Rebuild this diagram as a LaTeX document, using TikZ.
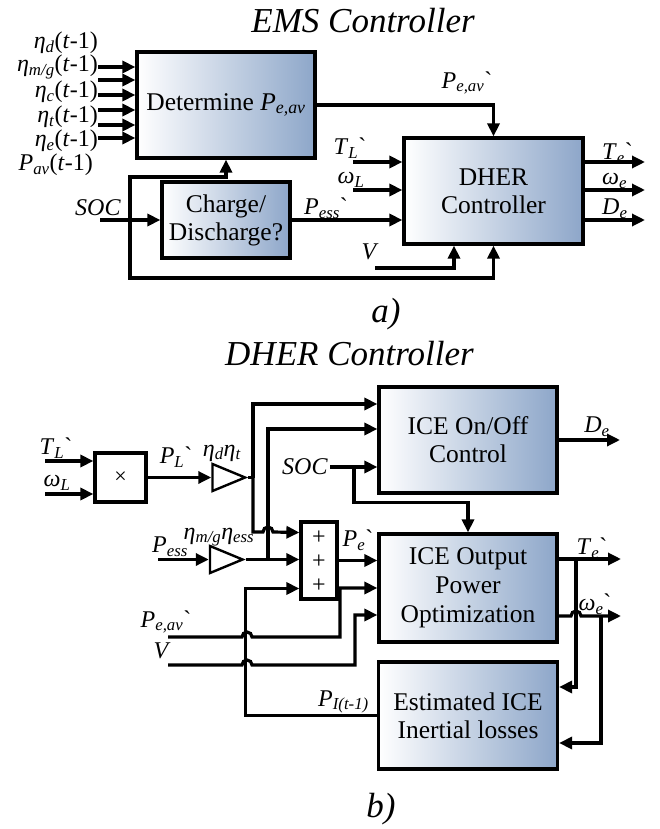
\documentclass[tikz,border=0pt]{standalone}
\usepackage{fontspec}
\setmainfont{Liberation Serif}
\usetikzlibrary{arrows.meta,shapes.geometric}

\newcommand{\vsub}[2]{\textit{#1}\textsubscript{\textit{#2}}}
\newcommand{\grv}{\textasciigrave}

\tikzset{
  sig/.style={line width=3.2pt, -{Triangle[length=13pt,width=12pt]}},
  wire/.style={line width=3.2pt},
  ctrlbox/.style={draw, line width=3.2pt, left color=white, right color=boxblue,
                  align=center, inner sep=0pt,
                  font=\fontsize{25.5}{28}\selectfont},
  opbox/.style={draw, line width=3.2pt, fill=white, inner sep=0pt},
  gain/.style={isosceles triangle, draw, line width=2.4pt, fill=white,
               minimum width=27pt, minimum height=27pt, inner sep=0pt},
  lbl/.style={font=\fontsize{24}{26}\selectfont, inner sep=0pt},
  ttl/.style={font=\itshape\fontsize{35}{38}\selectfont, inner sep=0pt, anchor=base},
}

\begin{document}
\begin{tikzpicture}[x=1pt,y=-1pt]

\definecolor{boxblue}{RGB}{141,166,201}
\useasboundingbox (0,0) rectangle (660,829);

% ---- (1) panel a: titles and blocks -----------------------------
\node[ttl] (emsttl) at (363,33) {EMS Controller};
\node[ttl] (capa) at (386,322) {a)};

\node[ctrlbox, minimum width=178pt, minimum height=106pt] (det) at (226,105)
      {Determine \vsub{P}{e,av}};
\node[ctrlbox, minimum width=128pt, minimum height=76pt] (chg) at (226,220)
      {Charge/\\Discharge?};
\node[ctrlbox, minimum width=179pt, minimum height=106pt] (dher) at (493.5,191)
      {DHER\\Controller};

% ---- (2) panel a: efficiency inputs -----------------------------
\foreach \yy [count=\i] in {67,80,95,110,125,138}{%
  \coordinate (ein\i) at (98,\yy);
  \draw[sig] (ein\i) -- (ein\i -| det.west);
}
\node[lbl, anchor=east] (lnd) at (98,43)  {\vsub{η}{d}(\textit{t}-1)};
\node[lbl, anchor=east] (lnm) at (98,67)  {\vsub{η}{m/g}(\textit{t}-1)};
\node[lbl, anchor=east] (lnc) at (98,92)  {\vsub{η}{c}(\textit{t}-1)};
\node[lbl, anchor=east] (lnt) at (98,117) {\vsub{η}{t}(\textit{t}-1)};
\node[lbl, anchor=east] (lne) at (98,141) {\vsub{η}{e}(\textit{t}-1)};
\node[lbl, anchor=east] (lpa) at (93,165) {\vsub{P}{av}(\textit{t}-1)};

% ---- (3) panel a: SOC path and feedback -------------------------
\node[lbl] (soca) at (98,208) {\textit{SOC}};
\coordinate (socin) at (100,220);
\coordinate (socj)  at (130,220);
\coordinate (fbup)  at (130,177);
\coordinate (fbdn)  at (130,278);
\draw[sig] (socin) -- (socin -| chg.west);
\draw[sig] (socj) -- (fbup) -| (det.south);
\draw[sig] (socj) -- (fbdn) -| (dher.south);

\draw[sig] (det.east) -| (dher.north);
\node[lbl] (pava) at (467,83) {\vsub{P}{e,av}\grv};

\draw[sig] (chg.east) -- (chg.east -| dher.west);
\node[lbl] (pessa) at (326,208) {\vsub{P}{ess}\grv};

% ---- (4) panel a: DHER inputs and outputs -----------------------
\coordinate (tla) at (353,162);
\coordinate (wla) at (353,190);
\draw[sig] (tla) -- (tla -| dher.west);
\draw[sig] (wla) -- (wla -| dher.west);
\node[lbl] (tlal) at (350,148) {\vsub{T}{L}\grv};
\node[lbl] (wlal) at (351,180) {\vsub{ω}{L}};

\coordinate (va)  at (375,268);
\coordinate (vup) at (454,268);
\draw[sig] (va) -- (vup) -- (vup |- dher.south);
\node[lbl] (val) at (370,252) {\textit{V}};

\foreach \yy/\nm in {162/te,190/we,220/de}{%
  \coordinate (\nm a) at (645,\yy);
  \draw[sig] (\nm a -| dher.east) -- (\nm a);
}
\node[lbl, anchor=west] (teal) at (602,153) {\vsub{T}{e}\grv};
\node[lbl, anchor=west] (weal) at (602,181) {\vsub{ω}{e}};
\node[lbl, anchor=west] (deal) at (602,209) {\vsub{D}{e}};

% ---- (5) panel b: titles and blocks -----------------------------
\node[ttl] (dherttl) at (349.5,365) {DHER Controller};
\node[ttl] (capb) at (381,817) {b)};

\node[opbox, minimum width=51pt, minimum height=49pt,
      font=\fontsize{22}{24}\selectfont] (mul) at (120.5,477.5) {×};
\node[gain] (g1) at (221.5,477.5) {};
\node[gain] (g2) at (219,559.5) {};
\node[opbox, minimum width=36pt, minimum height=77pt] (sum) at (319,560.5) {};
\foreach \yy [count=\i] in {538,562,586}{%
  \node[lbl] (plus\i) at (319,\yy) {+};
}

\node[ctrlbox, minimum width=178pt, minimum height=106pt] (onoff) at (468,440)
      {ICE On/Off\\Control};
\node[ctrlbox, minimum width=178pt, minimum height=108pt,
      font=\fontsize{25.5}{29}\selectfont] (opt) at (468,588)
      {ICE Output\\Power\\Optimization};
\node[ctrlbox, minimum width=179pt, minimum height=107pt] (est) at (468,715.5)
      {Estimated ICE\\Inertial losses};

% ---- (6) panel b: load power and gains --------------------------
\coordinate (tlb) at (45,461);
\coordinate (wlb) at (45,494);
\draw[sig] (tlb) -- (tlb -| mul.west);
\draw[sig] (wlb) -- (wlb -| mul.west);
\node[lbl] (tlbl) at (56,448) {\vsub{T}{L}\grv};
\node[lbl] (wlbl) at (57,483) {\vsub{ω}{L}};

\draw[sig] (mul.east) -- (g1.west);
\node[lbl] (plbl) at (176,457) {\vsub{P}{L}\grv};
\node[lbl] (g1l)  at (222,453) {\vsub{η}{d}\vsub{η}{t}};

\coordinate (pessb) at (158,559.5);
\draw[sig] (pessb) -- (g2.west);
\node[lbl] (pessbl) at (170,547) {\vsub{P}{ess}};
\node[lbl] (g2l)    at (219,537) {\vsub{η}{m/g}\vsub{η}{ess}};

% ---- (7) panel b: summing junction and on/off inputs ------------
\coordinate (j1) at (253,477.5);
\coordinate (j2) at (268,559.5);
\coordinate (s1) at ([yshift=28pt]sum.west);
\coordinate (s3) at ([yshift=-28pt]sum.west);
\draw[wire] (g1.apex) -- (j1);
\draw[sig] (j1) |- ([yshift=36pt]onoff.west);
\draw[sig] (j1) -- (253,532) -- (263,532)
      arc[start angle=180, end angle=0, radius=5pt] -- (s1);
\draw[sig] (g2.apex) -- (g2.apex -| sum.west);
\draw[sig] (j2) |- ([yshift=11pt]onoff.west);
\draw[sig] (est.west) -| ([xshift=-54pt]s3) -- (s3);
\node[lbl, anchor=east] (pil) at (369,702) {\vsub{P}{I(t-1)}};

\draw[sig] (sum.east) -- (sum.east -| opt.west);
\node[lbl] (pel) at (358,540) {\vsub{P}{e}\grv};

\node[lbl, anchor=east] (socbl) at (328,467) {\textit{SOC}};
\coordinate (socb)  at (330,467);
\coordinate (socj2) at (354,467);
\draw[sig] (socb) -- (socb -| onoff.west);
\draw[sig] (socj2) |- ([yshift=30pt]opt.north) -- (opt.north);

% ---- (8) panel b: external references ---------------------------
\coordinate (pavb) at (168,637);
\coordinate (vb)   at (168,665);
\draw[sig] (pavb) -- (242,637)
      arc[start angle=180, end angle=0, radius=5pt] -- (340,637) |- (opt.west);
\draw[sig] (vb) -- (242,665)
      arc[start angle=180, end angle=0, radius=5pt] -- (355,665)
      |- ([yshift=-27pt]opt.west);
\node[lbl] (pavbl) at (166,622) {\vsub{P}{e,av}\grv};
\node[lbl] (vbl)   at (162,651) {\textit{V}};

% ---- (9) panel b: outputs and loss feedback ---------------------
\coordinate (deb) at (620,440);
\draw[sig] (onoff.east) -- (deb);
\node[lbl] (debl) at (597,427) {\vsub{D}{e}};

\coordinate (teb) at (621,559);
\coordinate (tej) at (576,559);
\coordinate (web) at (621,616);
\coordinate (wej) at (601,616);
\draw[sig] ([yshift=29pt]opt.east) -- (teb);
\draw[sig] ([yshift=-28pt]opt.east) -- (571,616)
      arc[start angle=180, end angle=0, radius=5pt] -- (web);
\draw[sig] (tej) |- ([yshift=28.5pt]est.east);
\draw[sig] (wej) |- ([yshift=-27.5pt]est.east);
\node[lbl] (tebl) at (592,548) {\vsub{T}{e}\grv};
\node[lbl] (webl) at (595,604) {\vsub{ω}{e}\grv};

\end{tikzpicture}
\end{document}
